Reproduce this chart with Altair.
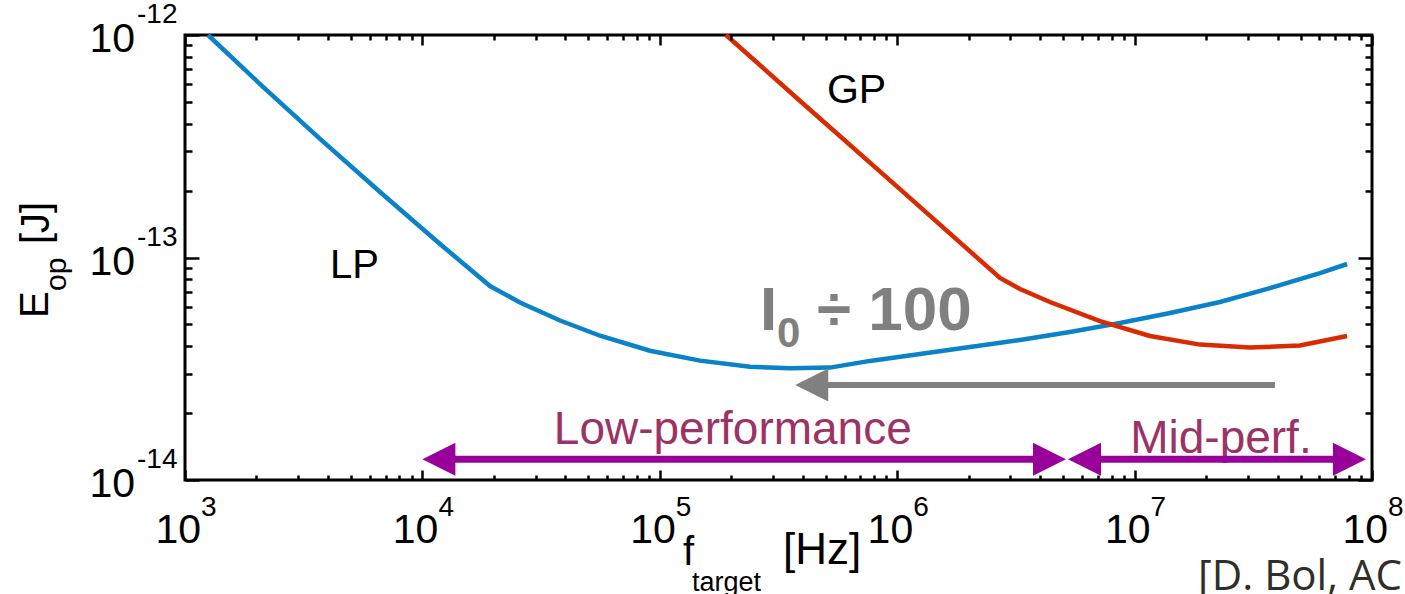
import altair as alt
import pandas as pd

W, H = 1187, 445
FONT = "Liberation Sans"
BLUE = "#0A82C8"
RED = "#D92A00"
GRAY = "#808080"
PURPLE = "#990099"
PTEXT = "#9B3366"

# ---- data ----
lp_freq = [1.250e3, 2.070e3, 3.705e3, 6.63e3, 1.186e4, 1.927e4, 2.577e4, 3.80e4, 5.60e4, 9.09e4,
           1.477e5, 2.398e5, 3.535e5, 5.21e5, 7.68e5, 1.247e6, 2.026e6, 3.29e6, 5.34e6, 8.68e6,
           1.410e7, 2.289e7, 3.72e7, 6.04e7, 7.85e7]
lp_energy = [1.000e-12, 6.02e-13, 3.41e-13, 1.97e-13, 1.150e-13, 7.44e-14, 6.28e-14, 5.21e-14, 4.45e-14, 3.81e-14,
             3.44e-14, 3.23e-14, 3.18e-14, 3.20e-14, 3.43e-14, 3.68e-14, 3.96e-14, 4.26e-14, 4.63e-14, 5.08e-14,
             5.63e-14, 6.31e-14, 7.29e-14, 8.51e-14, 9.35e-14]

gp_freq = [1.90e5, 3.90e5, 1.027e6, 2.71e6, 3.29e6, 4.40e6, 7.15e6, 1.161e7, 1.886e7, 3.06e7, 4.97e7, 7.85e7]
gp_energy = [1.0e-12, 5.05e-13, 2.03e-13, 8.09e-14, 7.22e-14, 6.31e-14, 5.18e-14, 4.44e-14, 4.06e-14, 3.94e-14,
             4.02e-14, 4.44e-14]

x_tick_exps = [3, 4, 5, 6, 7, 8]
y_tick_exps = [-12, -13, -14]
x_major = [10.0 ** e for e in x_tick_exps]
x_minor = [k * 10.0 ** d for d in range(3, 8) for k in range(2, 10)]
y_major = [10.0 ** e for e in y_tick_exps]
y_minor = [k * 10.0 ** d for d in (-14, -13) for k in range(2, 10)]

# annotations (data coordinates)
lp_label = ("LP", 4.08e3, 8.09e-14)
gp_label = ("GP", 5.06e5, 4.95e-13)
i0_main = ("I", 2.64e5, 4.72e-14)
i0_sub = ("0", 3.12e5, 3.96e-14)
i0_rest = ("÷ 100", 4.59e5, 4.72e-14)
low_label = ("Low-performance", 2.03e5, 1.45e-14)
mid_label = ("Mid-perf.", 2.31e7, 1.32e-14)

gray_arrow = dict(tip=3.72e5, start=4.6e5, end=3.9e7, y=2.67e-14)
low_arrow = dict(tip_l=1.0e4, tip_r=5.14e6, s=1.24e4, e=4.15e6, y=1.24e-14)
mid_arrow = dict(tip_l=5.24e6, tip_r=9.43e7, s=6.5e6, e=7.6e7, y=1.24e-14)

# ---- scales / axes ----
xs = alt.Scale(type="log", domain=[1e3, 1e8], nice=False)
ys = alt.Scale(type="log", domain=[1e-14, 1e-12], nice=False)


def ax(orient, values, size, offset):
    return alt.Axis(orient=orient, offset=offset, values=values, tickSize=size, tickWidth=2.5,
                    tickColor="black", labels=False, domain=False, grid=False, title=None,
                    ticks=True, zindex=2)


lp_df = pd.DataFrame({"f": lp_freq, "e": lp_energy})
gp_df = pd.DataFrame({"f": gp_freq, "e": gp_energy})

blue = alt.Chart(lp_df).mark_line(color=BLUE, strokeWidth=4.5).encode(
    x=alt.X("f:Q", scale=xs, axis=ax("top", x_major, 10, -H)),
    y=alt.Y("e:Q", scale=ys, axis=ax("right", y_major, 14, -W)),
)
red = alt.Chart(gp_df).mark_line(color=RED, strokeWidth=4.5).encode(
    x=alt.X("f:Q", scale=xs, axis=ax("top", x_minor, 5, -H)),
    y=alt.Y("e:Q", scale=ys, axis=ax("right", y_minor, 7, -W)),
)


def text_layer(item, size, color, align="left", bold=False, xaxis=None, yaxis=None):
    t, x, y = item
    df = pd.DataFrame({"t": [t], "x": [x], "y": [y]})
    return alt.Chart(df).mark_text(
        font=FONT, fontSize=size, color=color, align=align, baseline="alphabetic",
        fontWeight="bold" if bold else "normal",
    ).encode(
        x=alt.X("x:Q", scale=xs, axis=xaxis),
        y=alt.Y("y:Q", scale=ys, axis=yaxis),
        text="t:N",
    )


lp_t = text_layer(lp_label, 40, "black", xaxis=ax("bottom", x_major, 10, -H), yaxis=ax("left", y_major, 14, -W))
gp_t = text_layer(gp_label, 41, "black", xaxis=ax("bottom", x_minor, 5, -H), yaxis=ax("left", y_minor, 7, -W))
i0a = text_layer(i0_main, 62, GRAY, bold=True)
i0b = text_layer(i0_sub, 42, GRAY, bold=True)
i0c = text_layer(i0_rest, 62, GRAY, bold=True)
low_t = text_layer(low_label, 46, PTEXT, align="center")
mid_t = text_layer(mid_label, 46, PTEXT, align="center")


def arrow_layers(color, width, y, s, e, tips_left, tips_right):
    shaft = alt.Chart(pd.DataFrame({"a": [s], "b": [e], "y": [y]})).mark_rule(
        color=color, strokeWidth=width, strokeCap="butt").encode(
        x=alt.X("a:Q", scale=xs, axis=None), x2="b:Q",
        y=alt.Y("y:Q", scale=ys, axis=None))
    out = [shaft]
    if tips_left:
        out.append(alt.Chart(pd.DataFrame({"x": tips_left, "y": [y] * len(tips_left)})).mark_point(
            shape="M0,0L2,-1L2,1Z", filled=True, size=1089, color=color, opacity=1, strokeWidth=0).encode(
            x=alt.X("x:Q", scale=xs, axis=None), y=alt.Y("y:Q", scale=ys, axis=None)))
    if tips_right:
        out.append(alt.Chart(pd.DataFrame({"x": tips_right, "y": [y] * len(tips_right)})).mark_point(
            shape="M0,0L-2,-1L-2,1Z", filled=True, size=1089, color=color, opacity=1, strokeWidth=0).encode(
            x=alt.X("x:Q", scale=xs, axis=None), y=alt.Y("y:Q", scale=ys, axis=None)))
    return out


arrows = []
arrows += arrow_layers(GRAY, 6, gray_arrow["y"], gray_arrow["start"], gray_arrow["end"], [gray_arrow["tip"]], [])
arrows += arrow_layers(PURPLE, 7, low_arrow["y"], low_arrow["s"], low_arrow["e"], [low_arrow["tip_l"]], [low_arrow["tip_r"]])
arrows += arrow_layers(PURPLE, 7, mid_arrow["y"], mid_arrow["s"], mid_arrow["e"], [mid_arrow["tip_l"]], [mid_arrow["tip_r"]])

# tick labels as "10" + superscript exponent
xl_df = pd.DataFrame({"x": x_major, "y": [1e-14] * len(x_major),
                      "b": ["10"] * len(x_major), "p": [str(e) for e in x_tick_exps]})
yl_df = pd.DataFrame({"x": [1e3] * len(y_major), "y": y_major,
                      "b": ["10"] * len(y_major), "p": [str(e) for e in y_tick_exps]})

xl_base = alt.Chart(xl_df).mark_text(font=FONT, fontSize=41, align="right", baseline="alphabetic",
                                     dx=16, dy=63, color="black").encode(
    x=alt.X("x:Q", scale=xs, axis=None), y=alt.Y("y:Q", scale=ys, axis=None), text="b:N")
xl_exp = alt.Chart(xl_df).mark_text(font=FONT, fontSize=28, align="left", baseline="alphabetic",
                                    dx=16, dy=36, color="black").encode(
    x=alt.X("x:Q", scale=xs, axis=None), y=alt.Y("y:Q", scale=ys, axis=None), text="p:N")
yl_base = alt.Chart(yl_df).mark_text(font=FONT, fontSize=41, align="right", baseline="alphabetic",
                                     dx=-50, dy=17, color="black").encode(
    x=alt.X("x:Q", scale=xs, axis=None), y=alt.Y("y:Q", scale=ys, axis=None), text="b:N")
yl_exp = alt.Chart(yl_df).mark_text(font=FONT, fontSize=28, align="left", baseline="alphabetic",
                                    dx=-48, dy=-12, color="black").encode(
    x=alt.X("x:Q", scale=xs, axis=None), y=alt.Y("y:Q", scale=ys, axis=None), text="p:N")


def free_text(t, px, py, size, angle=0, font=FONT, color="black"):
    return alt.Chart(pd.DataFrame({"t": [t]})).mark_text(
        font=font, fontSize=size, color=color, align="left", baseline="alphabetic", angle=angle
    ).encode(x=alt.value(px), y=alt.value(py), text="t:N")


titles = [
    free_text("E", 48 - 185, 318 - 35, 40, angle=270),
    free_text("op", 66 - 185, 291 - 35, 30, angle=270),
    free_text("[J]", 49 - 185, 244 - 35, 40, angle=270),
    free_text("f", 683 - 185, 565 - 35, 40),
    free_text("target", 692 - 185, 591 - 35, 27),
    free_text("[Hz]", 783 - 185, 564 - 35, 44),
    free_text("[D. Bol, ACM", 1198 - 185, 590 - 35, 42, font="Open Sans", color="#2F2F2A"),
]

chart = alt.layer(
    blue, red, lp_t, gp_t, i0a, i0b, i0c, low_t, mid_t, *arrows,
    xl_base, xl_exp, yl_base, yl_exp, *titles,
).resolve_axis(x="independent", y="independent").properties(
    width=W, height=H,
    autosize=alt.AutoSizeParams(type="none"),
    padding={"left": 185, "top": 35, "right": 33, "bottom": 114},
    background="white",
).configure_view(stroke="black", strokeWidth=3)

chart.save("out.html", embed_options={"renderer": "svg", "actions": False})
